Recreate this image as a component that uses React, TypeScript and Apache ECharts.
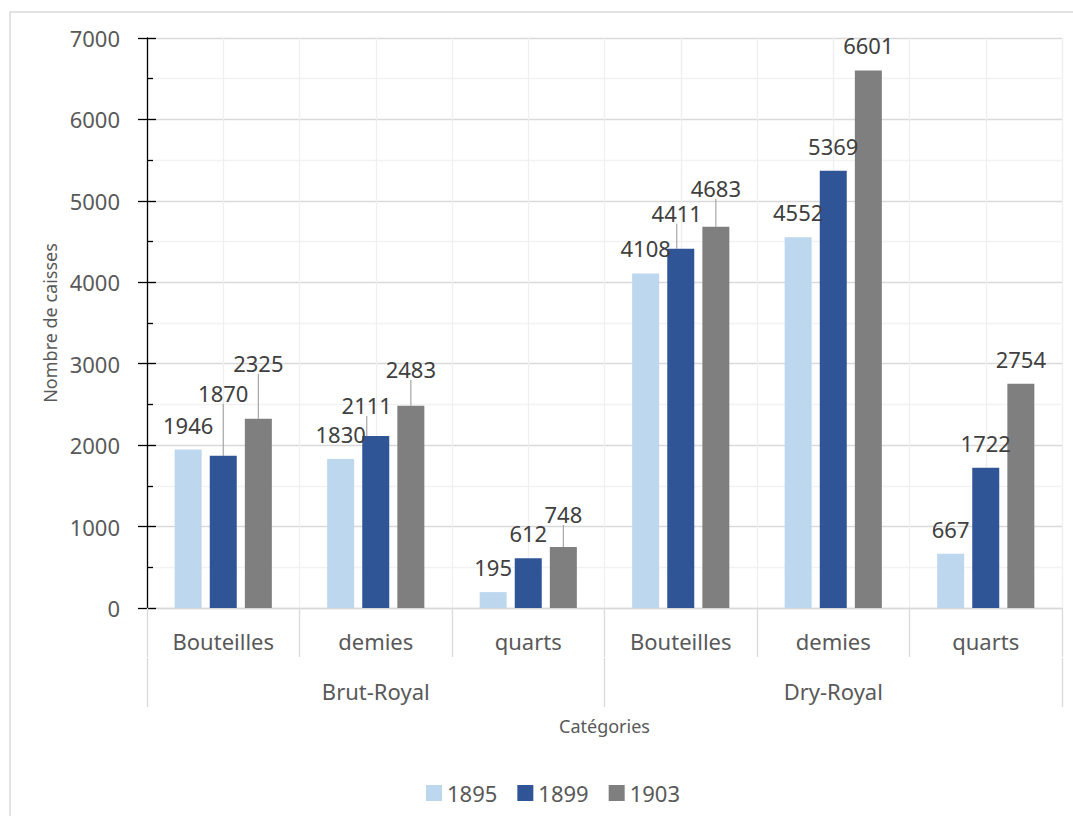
import React, { useEffect, useRef } from "react";
import * as echarts from "echarts";

// ---- Data ----
const subCategories = ["Bouteilles", "demies", "quarts", "Bouteilles", "demies", "quarts"];
const groups = ["Brut-Royal", "Dry-Royal"];
const years = ["1895", "1899", "1903"];
const values1895 = [1946, 1830, 195, 4108, 4552, 667];
const values1899 = [1870, 2111, 612, 4411, 5369, 1722];
const values1903 = [2325, 2483, 748, 4683, 6601, 2754];
const yMin = 0;
const yMax = 7000;
const yInterval = 1000;

// ---- Styling ----
const FONT = "'Noto Sans', 'Open Sans', sans-serif";
const COLORS = ["#BDD7EE", "#2F5597", "#7F7F7F"];
const TEXT = "#595959";
const LABEL = "#404040";

// label displacements (Excel moved some labels; leader lines where marked)
const LABEL_ADJUST: Record<string, { dx: number; dy: number; line: boolean }> = {
  "0-1": { dx: -11, dy: 0, line: false },
  "0-3": { dx: -5, dy: 2, line: false },
  "0-4": { dx: -7, dy: 0, line: false },
  "1-0": { dx: 0, dy: -38, line: true },
  "1-1": { dx: -9, dy: -6, line: true },
  "1-3": { dx: -4, dy: -11, line: true },
  "1-4": { dx: -8, dy: 0, line: false },
  "1-5": { dx: -9, dy: 0, line: false },
  "2-0": { dx: 0, dy: -31, line: true },
  "2-1": { dx: 0, dy: -12, line: true },
  "2-2": { dx: 0, dy: -8, line: true },
  "2-3": { dx: 0, dy: -14, line: true },
};

function buildSeriesData(seriesIndex: number, values: number[]) {
  return values.map((v, i) => {
    const adj = LABEL_ADJUST[`${seriesIndex}-${i}`];
    if (!adj) return { value: v, labelLine: { show: false } };
    if (!adj.line) {
      return { value: v, label: { offset: [adj.dx, adj.dy] }, labelLine: { show: false } };
    }
    return { value: v, labelLine: { show: true } };
  });
}

export default function App() {
  const ref = useRef<HTMLDivElement>(null);

  useEffect(() => {
    if (!ref.current) return;
    const chart = echarts.init(ref.current, undefined, { renderer: "svg" });
    const allValues = [values1895, values1899, values1903];

    const option: any = {
      animation: false,
      backgroundColor: "#ffffff",
      textStyle: { fontFamily: FONT },
      graphic: [
        {
          type: "rect",
          shape: { x: 10, y: 12, width: 1200, height: 900 },
          style: { fill: "none", stroke: "#d9d9d9", lineWidth: 1.5 },
          z: -10,
        },
      ],
      grid: { left: 147, right: 11, top: 38, bottom: 208, containLabel: false },
      legend: {
        data: years,
        left: 421,
        top: 777,
        icon: "rect",
        itemWidth: 16,
        itemHeight: 16,
        itemGap: 20,
        textStyle: { fontSize: 22, color: TEXT, fontFamily: FONT },
      },
      xAxis: [
        {
          type: "category",
          data: subCategories,
          position: "bottom",
          axisLine: { show: true, onZero: false, lineStyle: { color: "#d9d9d9", width: 1.3 } },
          axisTick: { show: true, length: 49, interval: 0, lineStyle: { color: "#d9d9d9", width: 1.3 } },
          axisLabel: { interval: 0, margin: 22, fontSize: 22, color: TEXT, fontFamily: FONT },
          splitLine: { show: false },
        },
        {
          type: "category",
          data: groups,
          position: "bottom",
          offset: 50,
          axisLine: { show: false, onZero: false },
          axisTick: { show: true, length: 49, interval: 0, lineStyle: { color: "#d9d9d9", width: 1.3 } },
          axisLabel: { interval: 0, margin: 22, fontSize: 22, color: TEXT, fontFamily: FONT },
          splitLine: { show: false },
          name: "Catégories",
          nameLocation: "middle",
          nameGap: 59,
          nameTextStyle: { fontSize: 18, color: TEXT, fontFamily: FONT },
        },
        {
          type: "value",
          min: 0,
          max: subCategories.length * 2,
          interval: 1,
          position: "bottom",
          axisLine: { show: false, onZero: false },
          axisTick: { show: false },
          axisLabel: { show: false },
          splitLine: { show: true, lineStyle: { color: "#efefef", width: 1.3 } },
        },
      ],
      yAxis: [
        {
          type: "value",
          min: yMin,
          max: yMax,
          interval: yInterval,
          position: "left",
          axisLine: { show: true, onZero: false, lineStyle: { color: "#000000", width: 1.3 } },
          axisTick: { show: true, length: 9, lineStyle: { color: "#000000", width: 1.3 } },
          axisLabel: {
            margin: 27,
            fontSize: 22,
            color: TEXT,
            fontFamily: FONT,
            formatter: (v: number) => String(v),
          },
          splitLine: { show: true, lineStyle: { color: "#d9d9d9", width: 1.3 } },
          minorTick: { show: false, splitNumber: 2 },
          minorSplitLine: { show: true, lineStyle: { color: "#f2f2f2", width: 1.3 } },
          name: "Nombre de caisses",
          nameLocation: "middle",
          nameGap: 82,
          nameTextStyle: { fontSize: 18, color: TEXT, fontFamily: FONT },
        },
        {
          type: "value",
          min: yMin,
          max: yMax,
          interval: yInterval,
          position: "left",
          axisLine: { show: false, onZero: false },
          axisTick: { show: true, inside: true, length: 9, lineStyle: { color: "#000000", width: 1.3 } },
          minorTick: { show: true, splitNumber: 2, length: 6, lineStyle: { color: "#000000", width: 1.3 } },
          axisLabel: { show: false },
          splitLine: { show: false },
        },
      ],
      series: years.map((y, si) => ({
        name: y,
        type: "bar",
        xAxisIndex: 0,
        yAxisIndex: 0,
        data: buildSeriesData(si, allValues[si]),
        barWidth: 27,
        barGap: "30%",
        itemStyle: { color: COLORS[si] },
        label: {
          show: true,
          position: "top",
          distance: 14,
          fontSize: 22,
          color: LABEL,
          fontFamily: FONT,
        },
        labelLine: { show: false, lineStyle: { color: "#a6a6a6", width: 1.2 } },
        labelLayout: (params: any) => {
          const adj = LABEL_ADJUST[`${params.seriesIndex}-${params.dataIndex}`];
          if (adj && adj.line) return { dx: adj.dx, dy: adj.dy };
          return {};
        },
      })),
    };

    chart.setOption(option);
    return () => chart.dispose();
  }, []);

  return (
    <div
      ref={ref}
      style={{ position: "absolute", left: 0, top: 0, width: 1073, height: 816 }}
    />
  );
}
